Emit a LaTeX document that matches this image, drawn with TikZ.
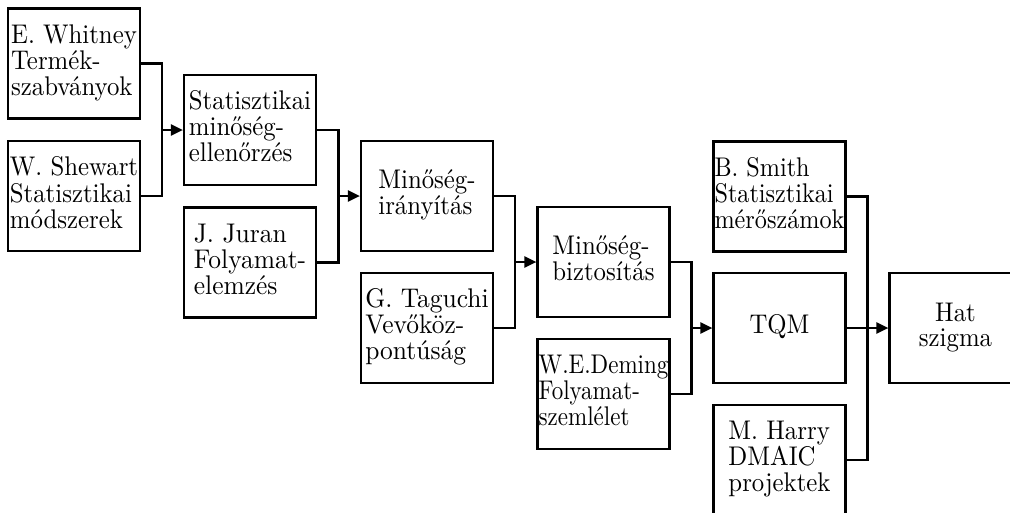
\documentclass[tikz,border=0pt]{standalone}
\usepackage{fontspec}
\usepackage{graphicx}
\usetikzlibrary{arrows.meta}
\newcommand\bt[2][2.48]{\scalebox{#1}[2.7]{\begin{tabular}{@{}l@{}}#2\end{tabular}}}
\newcommand\ct[1]{\scalebox{2.48}[2.7]{\begin{tabular}{@{}c@{}}#1\end{tabular}}}
\tikzset{
  box/.style={draw, line width=2.2pt, inner sep=0pt, minimum width=132pt, minimum height=110pt,
    font=\fontsize{10}{8.9}\selectfont},
  conn/.style={line width=2.2pt},
  arr/.style={line width=2.2pt, -{Triangle[length=12pt,width=11pt]}}
}
\begin{document}
\begin{tikzpicture}[x=1pt,y=-1pt]
\clip (0,0) rectangle (1010,512);
\fill[white] (0,0) rectangle (1010,512);
\node[box] (A) at (74,63.5) {\bt{E. Whitney\\Termék-\\szabványok}};
\node[box] (B) at (74,196) {\bt{W. Shewart\\Statisztikai\\módszerek}};
\node[box] (C) at (250,130) {\bt{Statisztikai\\minőség-\\ellenőrzés}};
\node[box] (D) at (250,262.5) {\bt[2.55]{J. Juran\\Folyamat-\\elemzés}};
\node[box] (E) at (427,196) {\bt{Minőség-\\irányítás}};
\node[box] (F) at (427,328) {\bt[2.55]{G. Taguchi\\Vevőköz-\\pontúság}};
\node[box] (G) at (603.5,262) {\bt{Minőség-\\biztosítás}};
\node[box] (H) at (603.5,394) {\bt[2.3]{W.E.Deming\\Folyamat-\\szemlélet}};
\node[box] (I) at (779.5,196.5) {\bt[2.42]{B. Smith\\Statisztikai\\mérőszámok}};
\node[box] (J) at (779.5,328) {\ct{TQM}};
\node[box] (K) at (779.5,460) {\bt{M. Harry\\DMAIC\\projektek}};
\node[box] (L) at (955.5,328) {\ct{Hat\\szigma}};
% group 1
\coordinate (j1) at (162,0);
\draw[conn] (A.east) -| (j1 |- B.east) -- (B.east);
\draw[arr] (j1 |- C.west) -- (C.west);
% group 2
\coordinate (j2) at (338.5,0);
\draw[conn] (C.east) -| (j2 |- D.east) -- (D.east);
\draw[arr] (j2 |- E.west) -- (E.west);
% group 3
\coordinate (j3) at (515,0);
\draw[conn] (E.east) -| (j3 |- F.east) -- (F.east);
\draw[arr] (j3 |- G.west) -- (G.west);
% group 4
\coordinate (j4) at (691.5,0);
\draw[conn] (G.east) -| (j4 |- H.east) -- (H.east);
\draw[arr] (j4 |- J.west) -- (J.west);
% group 5
\coordinate (j5) at (867.5,0);
\draw[conn] (I.east) -| (j5 |- K.east) -- (K.east);
\draw[arr] (J.east) -- (L.west);
\end{tikzpicture}
\end{document}
